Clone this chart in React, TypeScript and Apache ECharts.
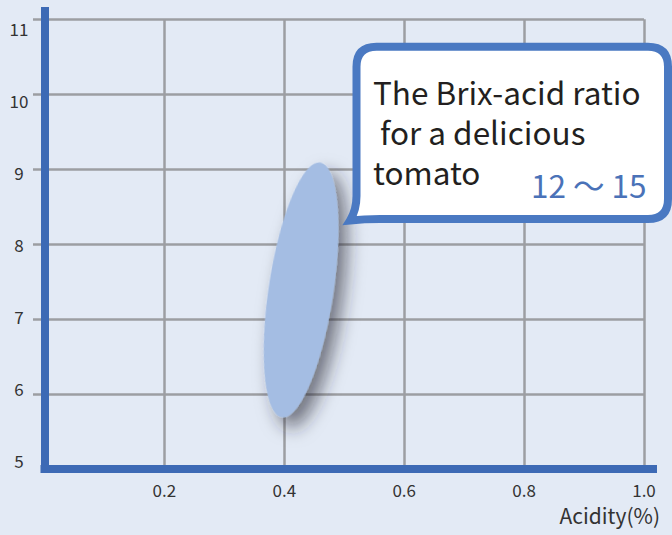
import React, { useEffect, useRef } from "react";
import * as echarts from "echarts";

// ---- data ----
const xLabelValues = [0.2, 0.4, 0.6, 0.8, 1.0];
const yValues = [5, 6, 7, 8, 9, 10, 11];
const yTickValues = [6, 7, 8, 9, 10, 11];
// ellipse: centre, upper end of major axis, half minor width (x units)
const ellipseCenter = [0.428, 7.39];
const ellipseTop = [0.46, 9.09];
const ellipseHalfWidth = [0.054];
const xAxisTitle = "Acidity(%)";
const bubbleLines = ["The Brix-acid ratio", " for a delicious", "tomato"];
const bubbleRange = "12 ～ 15";

const FONT = '"Noto Sans CJK JP", "Noto Sans", sans-serif';
const AXIS_BLUE = "#3d6ab5";
const BUBBLE_BLUE = "#4a79c2";
const GRID_GRAY = "#9c9ea2";
const LABEL = "#333333";

const BUBBLE_D =
  "M 376.5 46.7 L 648 46.7 Q 668 46.7 668 66.7 L 668 199 Q 668 219 648 219 L 380 219 Q 364 219 350 220.5 Q 356.5 210 356.5 196 L 356.5 66.7 Q 356.5 46.7 376.5 46.7 Z";

let registered = false;
function ensureShape() {
  if (registered) return;
  echarts.graphic.registerShape("bubble", echarts.graphic.extendPath(BUBBLE_D, {}) as any);
  registered = true;
}

export default function App() {
  const ref = useRef<HTMLDivElement>(null);
  useEffect(() => {
    ensureShape();
    const chart = echarts.init(ref.current!, null, { renderer: "svg" });
    const option: any = {
      animation: false,
      backgroundColor: "#e3eaf5",
      grid: [
        { left: 44.5, right: 28, top: 19.3, bottom: 66 },
        { left: 44.5, width: 1, top: 7, bottom: 62 },
        { left: 40.5, right: 15, top: 400, bottom: 66 },
        { left: 44.5, width: 1, top: 28.5, bottom: 74.7 },
      ],
      xAxis: [
        {
          gridIndex: 0,
          type: "value",
          min: 0,
          max: 1,
          interval: 0.2,
          axisLine: { show: false },
          axisTick: { show: false },
          splitLine: { show: true, lineStyle: { color: GRID_GRAY, width: 2.5 } },
          axisLabel: {
            show: true,
            customValues: xLabelValues,
            formatter: (v: number) => v.toFixed(1),
            margin: 12,
            fontSize: 17,
            color: LABEL,
            fontFamily: FONT,
          },
        },
        { gridIndex: 1, type: "value", show: false },
        {
          gridIndex: 2,
          type: "value",
          min: 0,
          max: 1,
          z: 5,
          axisLine: { show: true, onZero: false, lineStyle: { color: AXIS_BLUE, width: 8, cap: "butt" } },
          axisTick: { show: false },
          axisLabel: { show: false },
          splitLine: { show: false },
        },
        { gridIndex: 3, type: "value", show: false },
      ],
      yAxis: [
        {
          gridIndex: 0,
          type: "value",
          min: 5,
          max: 11,
          interval: 1,
          axisLine: { show: false },
          axisTick: {
            show: true,
            customValues: yTickValues,
            length: 11.5,
            lineStyle: { color: GRID_GRAY, width: 2.5 },
          },
          axisLabel: { show: false },
          splitLine: { show: true, lineStyle: { color: GRID_GRAY, width: 2.5 } },
        },
        {
          gridIndex: 1,
          type: "value",
          min: 0,
          max: 1,
          z: 5,
          axisLine: { show: true, onZero: false, lineStyle: { color: AXIS_BLUE, width: 8, cap: "butt" } },
          axisTick: { show: false },
          axisLabel: { show: false },
          splitLine: { show: false },
        },
        { gridIndex: 2, type: "value", show: false, min: 0, max: 1 },
        {
          gridIndex: 3,
          type: "value",
          min: 5,
          max: 11,
          interval: 1,
          axisLine: { show: false },
          axisTick: { show: false },
          splitLine: { show: false },
          axisLabel: {
            show: true,
            customValues: yValues,
            align: "center",
            margin: 25.5,
            fontSize: 17,
            color: LABEL,
            fontFamily: FONT,
          },
        },
      ],
      series: [
        {
          type: "custom",
          xAxisIndex: 0,
          yAxisIndex: 0,
          clip: false,
          z: 3,
          data: [[ellipseCenter[0], ellipseCenter[1], ellipseTop[0], ellipseTop[1], ellipseHalfWidth[0]]],
          renderItem: (params: any, api: any) => {
            const c = api.coord([api.value(0), api.value(1)]);
            const t = api.coord([api.value(2), api.value(3)]);
            const dx = t[0] - c[0];
            const dy = t[1] - c[1];
            const ry = Math.hypot(dx, dy);
            const rx = api.size([api.value(4), 0])[0];
            const rot = -Math.atan2(dx, -dy);
            return {
              type: "ellipse",
              x: c[0],
              y: c[1],
              rotation: rot,
              shape: { cx: 0, cy: 0, rx, ry },
              style: {
                fill: "#a4bde3",
                shadowBlur: 18,
                shadowColor: "rgba(40,40,50,0.6)",
                shadowOffsetX: 10,
                shadowOffsetY: 9,
              },
            };
          },
        },
      ],
      graphic: [
        {
          type: "bubble",
          x: 0,
          y: 0,
          z: 20,
          style: { fill: "#ffffff", stroke: BUBBLE_BLUE, lineWidth: 8, lineJoin: "miter", miterLimit: 10 },
        },
        {
          type: "text",
          x: 373,
          y: 70.6,
          z: 21,
          style: {
            text: bubbleLines.join("\n"),
            fill: "#231f20",
            fontSize: 31.5,
            lineHeight: 40.1,
            fontFamily: FONT,
            align: "left",
            verticalAlign: "top",
          },
        },
        {
          type: "text",
          x: 531,
          y: 183.7,
          z: 21,
          style: {
            text: bubbleRange,
            fill: "#4a72b8",
            fontSize: 31.5,
            fontFamily: FONT,
            align: "left",
            verticalAlign: "middle",
          },
        },
        {
          type: "text",
          x: 660,
          y: 515.3,
          z: 21,
          style: {
            text: xAxisTitle,
            fill: LABEL,
            fontSize: 21,
            fontFamily: FONT,
            align: "right",
            verticalAlign: "middle",
          },
        },
      ],
    };
    chart.setOption(option);
    return () => chart.dispose();
  }, []);
  return <div ref={ref} style={{ position: "fixed", left: 0, top: 0, width: 672, height: 535 }} />;
}
